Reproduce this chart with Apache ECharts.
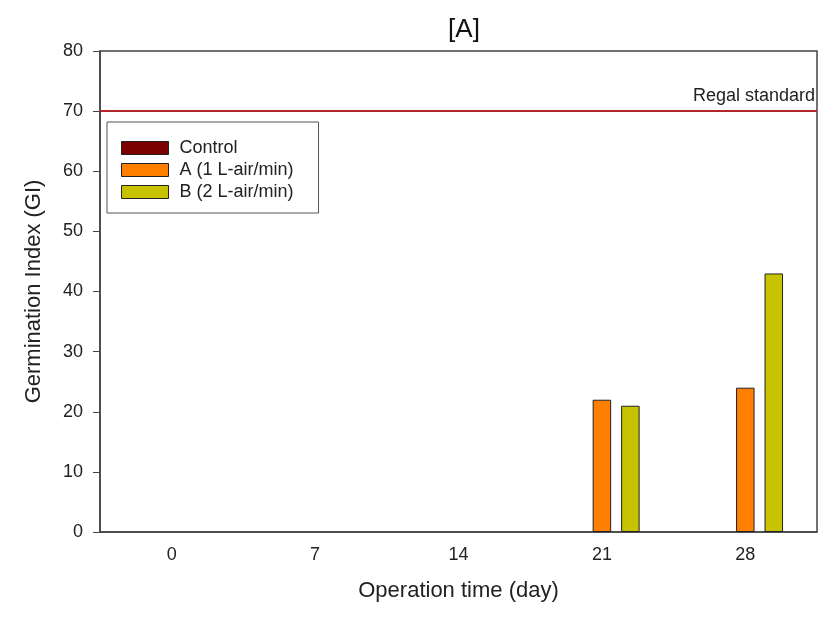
<!DOCTYPE html>
<html>
<head>
<meta charset="utf-8">
<script src="https://cdn.jsdelivr.net/npm/echarts@6/dist/echarts.min.js"></script>
<style>html,body{margin:0;padding:0;background:#fff}#c{width:836px;height:622px}</style>
</head>
<body>
<div id="c"></div>
<script>
const categories = ['0', '7', '14', '21', '28'];
const controlValues = [0, 0, 0, 0, 0];
const aValues = [0, 0, 0, 22, 24];
const bValues = [0, 0, 0, 21, 43];
const seriesNames = ['Control', 'A (1 L-air/min)', 'B (2 L-air/min)'];
const standardValue = 70;
const standardLabel = 'Regal standard';

const FONT = '"Liberation Sans", Arial, sans-serif';
const chart = echarts.init(document.getElementById('c'));
// zero-height bars get no outline so they do not leave marks on the axis
const toData = arr => arr.map(v => v === 0 ? { value: 0, itemStyle: { borderWidth: 0 } } : v);
const barCommon = {
  type: 'bar',
  barWidth: 18.5,
  barGap: '54%'
};
chart.setOption({
  animation: false,
  textStyle: { fontFamily: FONT },
  title: {
    text: '[A]', left: 459, top: 12, textAlign: 'center',
    textStyle: { fontFamily: FONT, fontSize: 26, fontWeight: 'normal', color: '#111' }
  },
  grid: { left: 100, right: 19, top: 51, bottom: 90, show: true, borderColor: '#444', borderWidth: 1.5, backgroundColor: 'transparent' },
  legend: {
    orient: 'vertical', left: 107, top: 122,
    itemWidth: 47, itemHeight: 13, itemGap: 4,
    padding: [17, 25, 12, 14],
    borderColor: '#555', borderWidth: 1,
    icon: 'rect',
    itemStyle: { borderColor: '#222', borderWidth: 1 },
    textStyle: { fontFamily: FONT, fontSize: 18, color: '#222', padding: [0, 0, 0, 6] },
    data: seriesNames
  },
  xAxis: {
    type: 'category', data: categories,
    name: 'Operation time (day)', nameLocation: 'middle', nameGap: 48,
    nameTextStyle: { fontFamily: FONT, fontSize: 22, color: '#222' },
    axisLine: { lineStyle: { color: '#444', width: 1.5 } },
    axisTick: { alignWithLabel: true, length: 6, lineStyle: { color: '#444' } },
    axisLabel: { fontFamily: FONT, fontSize: 18, color: '#222', margin: 14 }
  },
  yAxis: {
    type: 'value', min: 0, max: 80, interval: 10,
    name: 'Germination Index (GI)', nameLocation: 'middle', nameGap: 55,
    nameTextStyle: { fontFamily: FONT, fontSize: 22, color: '#222' },
    axisLine: { show: true, lineStyle: { color: '#444', width: 1.5 } },
    axisTick: { show: true, length: 7, lineStyle: { color: '#444' } },
    axisLabel: { fontFamily: FONT, fontSize: 18, color: '#222', margin: 17 },
    splitLine: { show: false }
  },
  series: [
    Object.assign({}, barCommon, {
      name: seriesNames[0], data: toData(controlValues),
      itemStyle: { color: '#7d0000', borderColor: '#222', borderWidth: 1 },
      markLine: {
        silent: true, symbol: 'none',
        lineStyle: { color: '#b3262b', width: 2, type: 'solid' },
        label: { show: true, position: 'insideEndTop', formatter: standardLabel, fontFamily: FONT, fontSize: 18, color: '#222', distance: [2, 6] },
        data: [{ yAxis: standardValue }]
      }
    }),
    Object.assign({}, barCommon, {
      name: seriesNames[1], data: toData(aValues),
      itemStyle: { color: '#ff8000', borderColor: '#222', borderWidth: 1 }
    }),
    Object.assign({}, barCommon, {
      name: seriesNames[2], data: toData(bValues),
      itemStyle: { color: '#c8c300', borderColor: '#222', borderWidth: 1 }
    })
  ]
});
</script>
</body>
</html>
